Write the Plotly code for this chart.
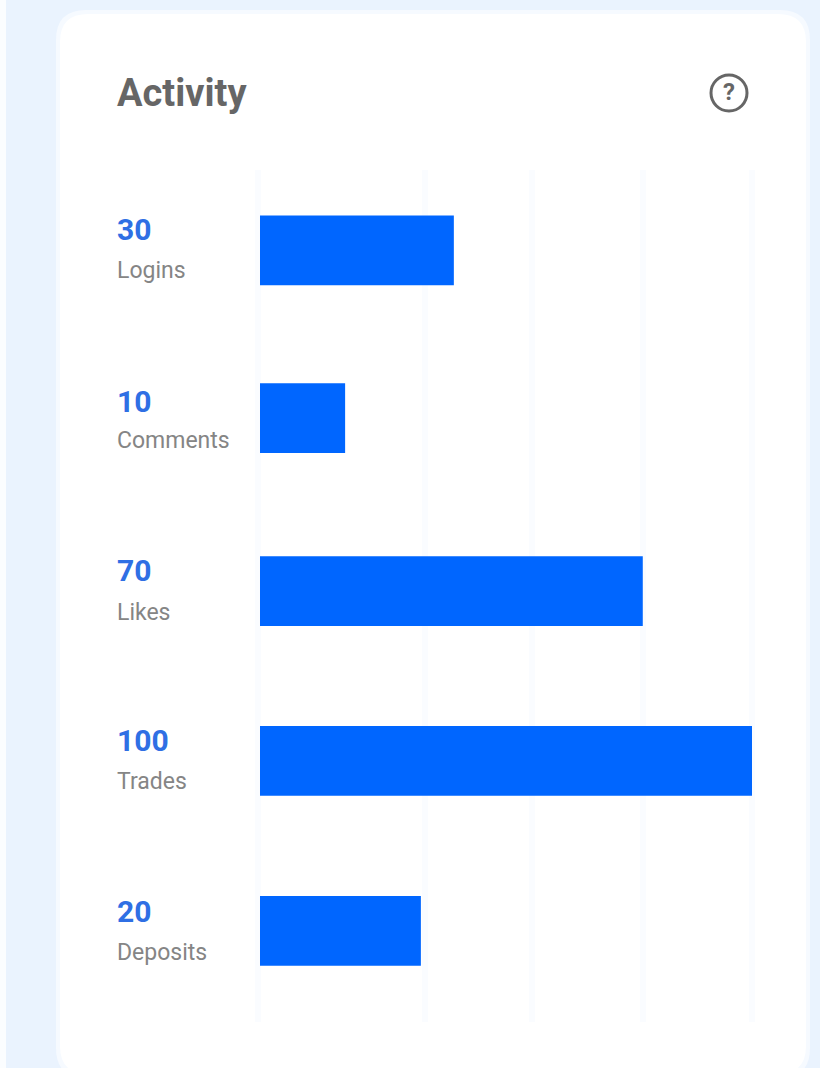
import plotly.graph_objects as go

categories = ["Logins", "Comments", "Likes", "Trades", "Deposits"]
shown_values = [30, 10, 70, 100, 20]
bar_lengths = [39.4, 17.3, 77.8, 100, 32.7]
grid_ticks = [-0.4, 33.5, 55.3, 77.8, 100]
title_text = "Activity"

W, H = 820, 1068
PAGE = "#EAF3FE"
BAR = "#0066FF"
BLUE = "#2F6FE4"
BAR_W = 0.41
# per-row nudges in px, as the reference rows are not evenly spaced
row_nudge = [0, -2.5, 0.5, 0, 0]
UNIT = 170.1
number_shift = [21, 19.5, 20.5, 20.5, 19.5]
label_shift = [-20, -19.5, -21.5, -20.5, -21.5]

def px(v):
    return v / W


def py(v):
    return 1 - v / H


def rounded(x0, y0, x1, y1, r):
    return (
        f"M {px(x0 + r)} {py(y0)} L {px(x1 - r)} {py(y0)} "
        f"Q {px(x1)} {py(y0)} {px(x1)} {py(y0 + r)} L {px(x1)} {py(y1 - r)} "
        f"Q {px(x1)} {py(y1)} {px(x1 - r)} {py(y1)} L {px(x0 + r)} {py(y1)} "
        f"Q {px(x0)} {py(y1)} {px(x0)} {py(y1 - r)} L {px(x0)} {py(y0 + r)} "
        f"Q {px(x0)} {py(y0)} {px(x0 + r)} {py(y0)} Z"
    )


fig = go.Figure(
    go.Bar(
        x=bar_lengths,
        y=categories,
        orientation="h",
        width=BAR_W,
        offset=[-BAR_W / 2 + n / UNIT for n in row_nudge],
        marker=dict(color=BAR, line=dict(width=0)),
        hoverinfo="skip",
    )
)

shapes = [
    dict(type="rect", xref="paper", yref="paper", x0=0, x1=px(6), y0=0, y1=1,
         fillcolor="#FBFDFF", line_width=0, layer="below"),
    dict(type="path", xref="paper", yref="paper", path=rounded(56, 10, 810, 1078, 30),
         fillcolor="#F6FAFF", line_width=0, layer="below"),
    dict(type="path", xref="paper", yref="paper", path=rounded(60, 14, 806, 1074, 28),
         fillcolor="#FFFFFF", line_width=0, layer="below"),
    dict(type="circle", xref="paper", yref="paper",
         x0=px(711), x1=px(747), y0=py(111), y1=py(75),
         fillcolor="rgba(0,0,0,0)", line=dict(color="#666666", width=3), layer="above"),
]

annotations = [
    dict(text=title_text, xref="paper", yref="paper", x=px(115), y=py(93),
         xanchor="left", yanchor="middle", showarrow=False,
         font=dict(family="Roboto", size=38, color="#666666", weight=700)),
    dict(text="?", xref="paper", yref="paper", x=px(729), y=py(92),
         xanchor="center", yanchor="middle", showarrow=False,
         font=dict(family="Roboto", size=24, color="#666666", weight=700)),
]
for cat, val, ns, ls in zip(categories, shown_values, number_shift, label_shift):
    annotations.append(dict(
        text=str(val), xref="paper", yref="y", x=px(115), y=cat, yshift=ns,
        xanchor="left", yanchor="middle", showarrow=False,
        font=dict(family="Roboto", size=30, color=BLUE, weight=700)))
    annotations.append(dict(
        text=cat, xref="paper", yref="y", x=px(115), y=cat, yshift=ls,
        xanchor="left", yanchor="middle", showarrow=False,
        font=dict(family="Roboto", size=23, color="#858585")))

fig.update_layout(
    width=W,
    height=H,
    margin=dict(l=0, r=0, t=0, b=0),
    paper_bgcolor=PAGE,
    plot_bgcolor="rgba(0,0,0,0)",
    showlegend=False,
    shapes=shapes,
    annotations=annotations,
    xaxis=dict(
        domain=[px(250.16), px(756.92)],
        range=[-2, 101],
        tickmode="array",
        tickvals=grid_ticks,
        showticklabels=False,
        ticks="",
        showgrid=True,
        gridcolor="#FAFCFF",
        gridwidth=6,
        zeroline=False,
        showline=False,
    ),
    yaxis=dict(
        domain=[py(1022), py(170)],
        categoryorder="array",
        categoryarray=categories,
        range=[4.535, -0.473],
        showticklabels=False,
        ticks="",
        showgrid=False,
        zeroline=False,
        showline=False,
    ),
)

fig.write_html("out.html", config=dict(displayModeBar=False),
               post_script="document.body.style.margin='0';document.body.style.overflow='hidden';")
